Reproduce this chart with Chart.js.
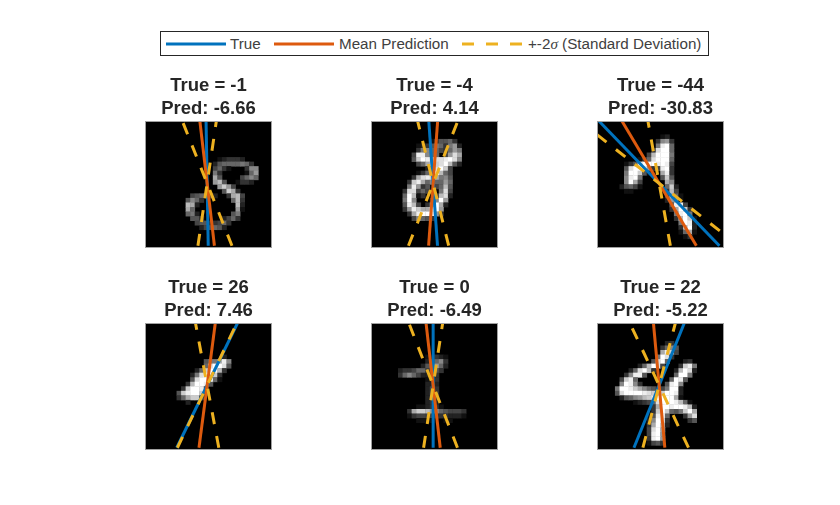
<!DOCTYPE html>
<html>
<head>
<meta charset="utf-8">
<title>Rotated digit predictions</title>
<script src="https://cdn.jsdelivr.net/npm/chart.js@4/dist/chart.umd.js"></script>
<style>
  html, body { margin: 0; padding: 0; background: #fff; }
  body { position: relative; width: 840px; height: 505px; overflow: hidden; font-family: "Liberation Sans", Arial, sans-serif; }
  canvas { position: absolute; }
  #legend { position: absolute; left: 160px; top: 31px; width: 547px; height: 23px; border: 1px solid #262626; background: #fff; }
  #legend svg, #legend span { position: absolute; }
  #legend span { top: 3px; font-size: 15.2px; line-height: 17px; color: #404040; white-space: nowrap; }
  #legend i { font-family: "Liberation Serif", serif; }
</style>
</head>
<body>
<div id="legend">
  <svg style="left:5px;top:10px" width="60" height="4"><line x1="0" y1="2" x2="60" y2="2" stroke="#0072BD" stroke-width="3"/></svg>
  <span style="left:69px">True</span>
  <svg style="left:113px;top:10px" width="60" height="4"><line x1="0" y1="2" x2="60" y2="2" stroke="#DD5A0E" stroke-width="3"/></svg>
  <span style="left:178px">Mean Prediction</span>
  <svg style="left:301px;top:10px" width="60" height="4"><line x1="0" y1="2" x2="60" y2="2" stroke="#EDB120" stroke-width="3" stroke-dasharray="12 12"/></svg>
  <span style="left:367px">+-2<i>σ</i> (Standard Deviation)</span>
</div>
<script>
/* ----- values ----- */
const trueAngles = [-1, -4, -44, 26, 0, 22];
const predAngles = [-6.66, 4.14, -30.83, 7.46, -6.49, -5.22];
const lowAngles = [-21.7, -14, -51.9, -10.6, -21.3, -25.2];
const highAngles = [8.4, 21.6, -10.2, 25.5, 8.7, 14.6];

// each row: [image row, first column, intensities 0-f]
const digitA = [
  [8, 16, '123332'],
  [9, 15, '256666763'],
  [10, 15, '4631000388'],
  [11, 15, '7300000169'],
  [12, 15, 'a500004686'],
  [13, 15, '9b5001332'],
  [14, 16, '9c94'],
  [15, 17, '5ca3'],
  [16, 10, '456642003ab4'],
  [17, 9, '58630000006b3'],
  [18, 9, 'ba200000000b2'],
  [19, 9, 'a600000000091'],
  [20, 9, '672000000057'],
  [21, 10, '55300002463'],
  [22, 11, '45533463'],
  [23, 12, '245652']
];
const digitB = [
  [4, 13, '135563'],
  [5, 10, '1235763792'],
  [6, 10, '3786643697'],
  [7, 9, '4ee866049da'],
  [8, 9, '5cfecddefd8'],
  [9, 10, '46accdfb52'],
  [10, 12, '27dfc4'],
  [11, 10, '136cfb64'],
  [12, 9, '3adeca785'],
  [13, 8, '3cea686696'],
  [14, 8, '7e935046b5'],
  [15, 7, '3dd464307d4'],
  [16, 7, '6fb13003bd2'],
  [17, 7, '7f800038f9'],
  [18, 7, '5eb403afa2'],
  [19, 7, '39ecaaef9'],
  [20, 8, '3aeffe93'],
  [21, 9, '48653']
];
const digitC = [
  [3, 14, '12'],
  [4, 13, '3893'],
  [5, 13, '7ef6'],
  [6, 12, '3dff6'],
  [7, 11, '4bfff7'],
  [8, 9, '136dfff6'],
  [9, 6, '135efffefe4'],
  [10, 6, '5dfff934ef3'],
  [11, 6, '7ffc5100ae3'],
  [12, 6, '8ef700005c5'],
  [13, 6, '8fa400000a8'],
  [14, 5, '25641000006c2'],
  [15, 6, '1100000003b4'],
  [16, 15, '4b61'],
  [17, 15, '2981'],
  [18, 16, '5ee4'],
  [19, 16, '3afc3'],
  [20, 17, '7ef7'],
  [21, 17, '3bfc1'],
  [22, 18, '7fe2'],
  [23, 18, '3bf2'],
  [24, 18, '16a1'],
  [25, 19, '13']
];
const digitD = [
  [7, 17, '2'],
  [8, 13, '577ae8'],
  [9, 13, '6dffd5'],
  [10, 11, '26cffb3'],
  [11, 10, '27dffc3'],
  [12, 10, '5dfff61'],
  [13, 9, '3bffe5'],
  [14, 8, '3cffe4'],
  [15, 7, '5ceffc3'],
  [16, 7, '36acc4'],
  [17, 9, '2']
];
const digitE = [
  [7, 12, '11321'],
  [8, 12, '24683'],
  [9, 11, '257962'],
  [10, 6, '2334664453'],
  [11, 6, '368642233'],
  [12, 12, '123'],
  [13, 12, '222'],
  [14, 12, '243'],
  [15, 12, '243'],
  [16, 12, '243'],
  [17, 12, '232'],
  [18, 10, '112331'],
  [19, 8, '3accb98654443'],
  [20, 8, '1344443332221'],
  [21, 10, '11110011']
];
const digitF = [
  [4, 15, '23'],
  [5, 14, '3685'],
  [6, 14, 'aec4'],
  [7, 13, '7fd3'],
  [8, 12, '5df600023'],
  [9, 9, '26bfd40003ce7'],
  [10, 7, '26dfb300002bfd2'],
  [11, 6, '38ee50000006ff7'],
  [12, 5, '4ce600000006fe5'],
  [13, 5, '8fe83000005ef8'],
  [14, 4, '7ffeca865347ff2'],
  [15, 4, '5dffffedcbcffe2'],
  [16, 5, '25689bceffffa1'],
  [17, 8, '12346dfffeb61'],
  [18, 12, '3affeffeb2'],
  [19, 12, '3cfc657cfa'],
  [20, 11, '15ef600039d'],
  [21, 11, '28fe3000035'],
  [22, 11, '3afc2'],
  [23, 11, '4dfa'],
  [24, 11, '4ef9'],
  [25, 11, '3ef9'],
  [26, 11, '1453']
];
const digits = [digitA, digitB, digitC, digitD, digitE, digitF];

/* ----- layout of the six panels ----- */
const SIDE = 127;
const TITLE_H = 50;
const COLS = [145, 371, 597];
const ROWS = [121, 323];

// image coordinates of the point the angled lines turn around
const CX = 13.7, CY = 13.75;
const Y_TOP = 0, Y_BOTTOM = 27.5;

function cellPoints(rows) {
  const pts = [];
  const colors = [];
  rows.forEach(([r, c0, hex]) => {
    [...hex].forEach((ch, i) => {
      const v = parseInt(ch, 16);
      if (!v) return;
      pts.push({ x: c0 + i + 0.5, y: r + 0.5 });
      colors.push(`rgb(${v * 17},${v * 17},${v * 17})`);
    });
  });
  return { pts, colors };
}

// dashes start from the bottom end of the line, like the original
function angleLine(deg) {
  const t = Math.tan(deg * Math.PI / 180);
  return [
    { x: CX - t * (Y_BOTTOM - CY), y: Y_BOTTOM },
    { x: CX - t * (Y_TOP - CY), y: Y_TOP }
  ];
}

const blackBox = {
  id: 'blackBox',
  beforeDatasetsDraw(chart) {
    const a = chart.chartArea;
    chart.ctx.fillStyle = '#000';
    chart.ctx.fillRect(a.left, a.top, a.width, a.height);
  },
  afterDatasetsDraw(chart) {
    const a = chart.chartArea;
    chart.ctx.strokeStyle = '#a0a0a0';
    chart.ctx.lineWidth = 1;
    chart.ctx.strokeRect(a.left + 0.5, a.top + 0.5, a.width - 1, a.height - 1);
  }
};

function lineSet(label, data, color, order, dash) {
  return {
    type: 'line', label, data, order,
    borderColor: color, borderWidth: 3, borderDash: dash || [],
    pointRadius: 0, fill: false, tension: 0
  };
}

digits.forEach((rows, i) => {
  const canvas = document.createElement('canvas');
  canvas.width = SIDE;
  canvas.height = SIDE + TITLE_H;
  canvas.style.left = COLS[i % 3] + 'px';
  canvas.style.top = (ROWS[Math.floor(i / 3)] - TITLE_H) + 'px';
  document.body.appendChild(canvas);

  const cells = cellPoints(rows);
  new Chart(canvas.getContext('2d'), {
    type: 'scatter',
    data: {
      datasets: [
        lineSet('+-2σ', angleLine(highAngles[i]), '#EDB120', 1, [12, 12]),
        lineSet('+-2σ low', angleLine(lowAngles[i]), '#EDB120', 1, [12, 12]),
        lineSet('Mean Prediction', angleLine(predAngles[i]), '#DD5A0E', 2),
        lineSet('True', angleLine(trueAngles[i]), '#0072BD', 3),
        {
          label: 'image', data: cells.pts, order: 4,
          pointStyle: 'rect', pointRadius: 3.5, pointBorderWidth: 0,
          pointBackgroundColor: cells.colors, showLine: false
        }
      ]
    },
    options: {
      responsive: false,
      animation: false,
      layout: { padding: 0, autoPadding: false },
      plugins: {
        legend: { display: false },
        tooltip: { enabled: false },
        title: {
          display: true,
          text: [`True = ${trueAngles[i]}`, `Pred: ${predAngles[i].toFixed(2)}`],
          color: '#262626',
          font: { family: '"Liberation Sans"', size: 18.5, weight: 'bold', lineHeight: 23 / 18.5 },
          padding: { top: 3, bottom: 1 }
        }
      },
      scales: {
        x: { type: 'linear', display: false, min: 0, max: 28 },
        y: { type: 'linear', display: false, min: 0, max: 28, reverse: true }
      }
    },
    plugins: [blackBox]
  });
});
</script>
</body>
</html>
